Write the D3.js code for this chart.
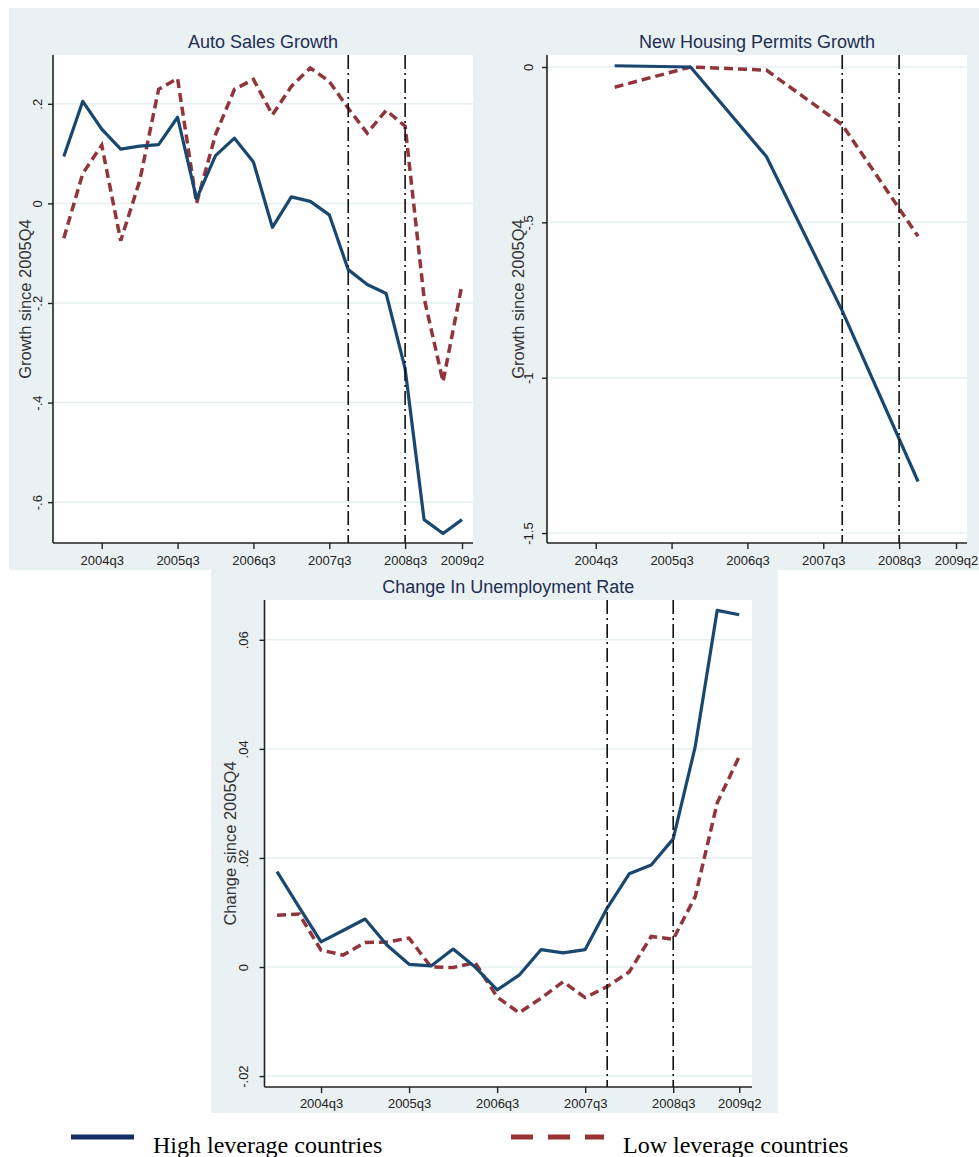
<!doctype html>
<meta charset="utf-8" />
<style>
    body { margin: 0; background: #fff; }
    text { font-family: "Liberation Sans", Arial, sans-serif; }
</style>
<svg></svg>

<script src="https://cdn.jsdelivr.net/npm/d3@7"></script>

<script>
    // quarters on the shared time axis
    var quarters = ["2004q1", "2004q2", "2004q3", "2004q4", "2005q1", "2005q2", "2005q3", "2005q4",
        "2006q1", "2006q2", "2006q3", "2006q4", "2007q1", "2007q2", "2007q3", "2007q4",
        "2008q1", "2008q2", "2008q3", "2008q4", "2009q1", "2009q2"];
    var xTickLabels = ["2004q3", "2005q3", "2006q3", "2007q3", "2008q3", "2009q2"];
    var eventLines = ["2007q4", "2008q3"];

    var autoHigh = [0.094, 0.205, 0.149, 0.109, 0.115, 0.118, 0.173, 0.009, 0.096, 0.131, 0.083,
        -0.048, 0.013, 0.004, -0.023, -0.133, -0.163, -0.181, -0.332, -0.635, -0.663, -0.635];
    var autoLow = [-0.070, 0.060, 0.117, -0.075, 0.045, 0.229, 0.251, 0.000, 0.138, 0.229, 0.249,
        0.178, 0.235, 0.272, 0.245, 0.191, 0.141, 0.187, 0.155, -0.190, -0.358, -0.163];
    var autoTicks = [-0.6, -0.4, -0.2, 0, 0.2];

    var housingQuarters = ["2004q4", "2005q4", "2006q4", "2007q4", "2008q4"];
    var housingHigh = [0.004, 0.000, -0.288, -0.785, -1.334];
    var housingLow = [-0.065, 0.000, -0.010, -0.186, -0.545];
    var housingTicks = [-1.5, -1, -0.5, 0];

    var unempHigh = [0.0175, 0.0110, 0.0046, 0.0067, 0.0088, 0.0040, 0.0005, 0.0002, 0.0033, 0.0000,
        -0.0042, -0.0015, 0.0032, 0.0026, 0.0032, 0.0108, 0.0171, 0.0187, 0.0235, 0.0404, 0.0654, 0.0646];
    var unempLow = [0.0095, 0.0097, 0.0031, 0.0022, 0.0045, 0.0046, 0.0053, 0.0000, -0.0001, 0.0008,
        -0.0055, -0.0084, -0.0057, -0.0027, -0.0056, -0.0036, -0.0009, 0.0056, 0.0051, 0.0129, 0.0301, 0.0386];
    var unempTicks = [-0.02, 0, 0.02, 0.04, 0.06];

    var navy = '#1a476f';
    var maroon = '#90353b';

    var svg = d3.select('svg')
        .attr('width', 979)
        .attr('height', 1157)

    var panels = [
        { title: 'Auto Sales Growth', ytitle: 'Growth since 2005Q4', bg: [9, 8, 481, 570],
          plot: [53, 55, 473, 543], ydom: [-0.682, 0.298], ticks: autoTicks,
          xs: quarters, high: autoHigh, low: autoLow, tickOff: 11, ytitleX: 25, xPad: 7, titleY: 48 },
        { title: 'New Housing Permits Growth', ytitle: 'Growth since 2005Q4', bg: [481, 8, 979, 570],
          plot: [547, 55, 967, 543], ydom: [-1.532, 0.0386], ticks: housingTicks,
          xs: housingQuarters, high: housingHigh, low: housingLow, tickOff: 14, ytitleX: 518, xPad: 7, titleY: 48 },
        { title: 'Change In Unemployment Rate', ytitle: 'Change since 2005Q4', bg: [211, 570, 778, 1113],
          plot: [264.5, 600, 752, 1087], ydom: [-0.022, 0.0673], ticks: unempTicks,
          xs: quarters, high: unempHigh, low: unempLow, tickOff: 17, ytitleX: 230, xPad: 6, titleY: 593 }
    ];

    // stata style: no leading zero
    function fmt(v) {
        return v === 0 ? '0' : String(v).replace('0.', '.');
    }

    // backgrounds first so that overhanging labels stay visible
    panels.forEach(function (p) {
        svg.append('rect')
            .attr('x', p.bg[0]).attr('y', p.bg[1])
            .attr('width', p.bg[2] - p.bg[0]).attr('height', p.bg[3] - p.bg[1])
            .attr('fill', '#eaf1f3')
    })

    panels.forEach(function (p) {
        var L = p.plot[0], T = p.plot[1], R = p.plot[2], B = p.plot[3];
        var qi = function (q) { return quarters.indexOf(q); };

        var x = d3.scaleLinear().domain([-0.57, 21.58]).range([L, R]);
        var y = d3.scaleLinear().domain(p.ydom).range([B, T]);

        var g = svg.append('g');

        g.append('rect')
            .attr('x', L).attr('y', T).attr('width', R - L).attr('height', B - T)
            .attr('fill', '#fff')

        g.append('text')
            .attr('x', (L + R) / 2).attr('y', p.titleY)
            .attr('text-anchor', 'middle')
            .style('font-size', '18px')
            .style('fill', '#1e2d53')
            .text(p.title)

        // grid
        g.selectAll('.grid').data(p.ticks).enter().append('line')
            .attr('x1', L).attr('x2', R)
            .attr('y1', function (d) { return y(d); })
            .attr('y2', function (d) { return y(d); })
            .style('stroke', '#e6eff1')
            .style('stroke-width', 1.5)

        var line = d3.line()
            .x(function (d, i) { return x(qi(p.xs[i])); })
            .y(function (d) { return y(d); });

        g.append('path')
            .attr('d', line(p.low))
            .style('fill', 'none')
            .style('stroke', maroon)
            .style('stroke-width', 3.5)
            .style('stroke-dasharray', '9,5')

        g.append('path')
            .attr('d', line(p.high))
            .style('fill', 'none')
            .style('stroke', navy)
            .style('stroke-width', 3.2)
            .style('stroke-linejoin', 'round')

        g.selectAll('.vline').data(eventLines).enter().append('line')
            .attr('x1', function (d) { return x(qi(d)); })
            .attr('x2', function (d) { return x(qi(d)); })
            .attr('y1', T).attr('y2', B)
            .style('stroke', '#111')
            .style('stroke-width', 1.6)
            .style('stroke-dasharray', '14,4,2,4')

        // x axis
        var xAxis = d3.axisBottom(x)
            .tickValues(xTickLabels.map(qi))
            .tickFormat(function (d) { return quarters[d]; })
            .tickSize(6)
            .tickPadding(p.xPad);
        var ax = g.append('g')
            .attr('transform', 'translate(0,' + B + ')')
            .call(xAxis);
        ax.select('.domain').attr('d', 'M' + L + ',0H' + R);

        // y axis with rotated labels
        var yAxis = d3.axisLeft(y)
            .tickValues(p.ticks)
            .tickFormat(fmt)
            .tickSize(5);
        var ay = g.append('g')
            .attr('transform', 'translate(' + L + ',0)')
            .call(yAxis);
        ay.select('.domain').attr('d', 'M0,' + T + 'V' + B);
        ay.selectAll('text')
            .attr('x', null).attr('dy', null)
            .attr('text-anchor', 'middle')
            .attr('transform', 'translate(' + (-p.tickOff) + ',0) rotate(-90)');

        [ax, ay].forEach(function (a) {
            a.select('.domain').style('stroke', '#222').style('stroke-width', 1.6);
            a.selectAll('.tick line').style('stroke', '#222').style('stroke-width', 1.4);
            a.selectAll('text')
                .style('font-family', '"Liberation Sans", Arial, sans-serif')
                .style('font-size', '13px')
                .style('fill', '#222');
        });

        g.append('text')
            .attr('transform', 'translate(' + p.ytitleX + ',' + ((T + B) / 2) + ') rotate(-90)')
            .attr('dy', '0.35em')
            .attr('text-anchor', 'middle')
            .style('font-size', '16.5px')
            .style('fill', '#333')
            .text(p.ytitle)
    })

    // legend
    var legend = [
        { label: 'High leverage countries', color: '#142d66', dash: null, x1: 71, x2: 134, tx: 153 },
        { label: 'Low leverage countries', color: '#973333', dash: '22,15', x1: 511, x2: 604, tx: 623 }
    ];
    var lg = svg.append('g');
    legend.forEach(function (l) {
        lg.append('line')
            .attr('x1', l.x1).attr('x2', l.x2)
            .attr('y1', 1137).attr('y2', 1137)
            .style('stroke', l.color)
            .style('stroke-width', 5)
            .style('stroke-dasharray', l.dash)
        lg.append('text')
            .attr('x', l.tx).attr('y', 1153)
            .style('font-family', '"Liberation Serif", "Times New Roman", serif')
            .style('font-size', '24px')
            .style('fill', '#000')
            .text(l.label)
    })
</script>
